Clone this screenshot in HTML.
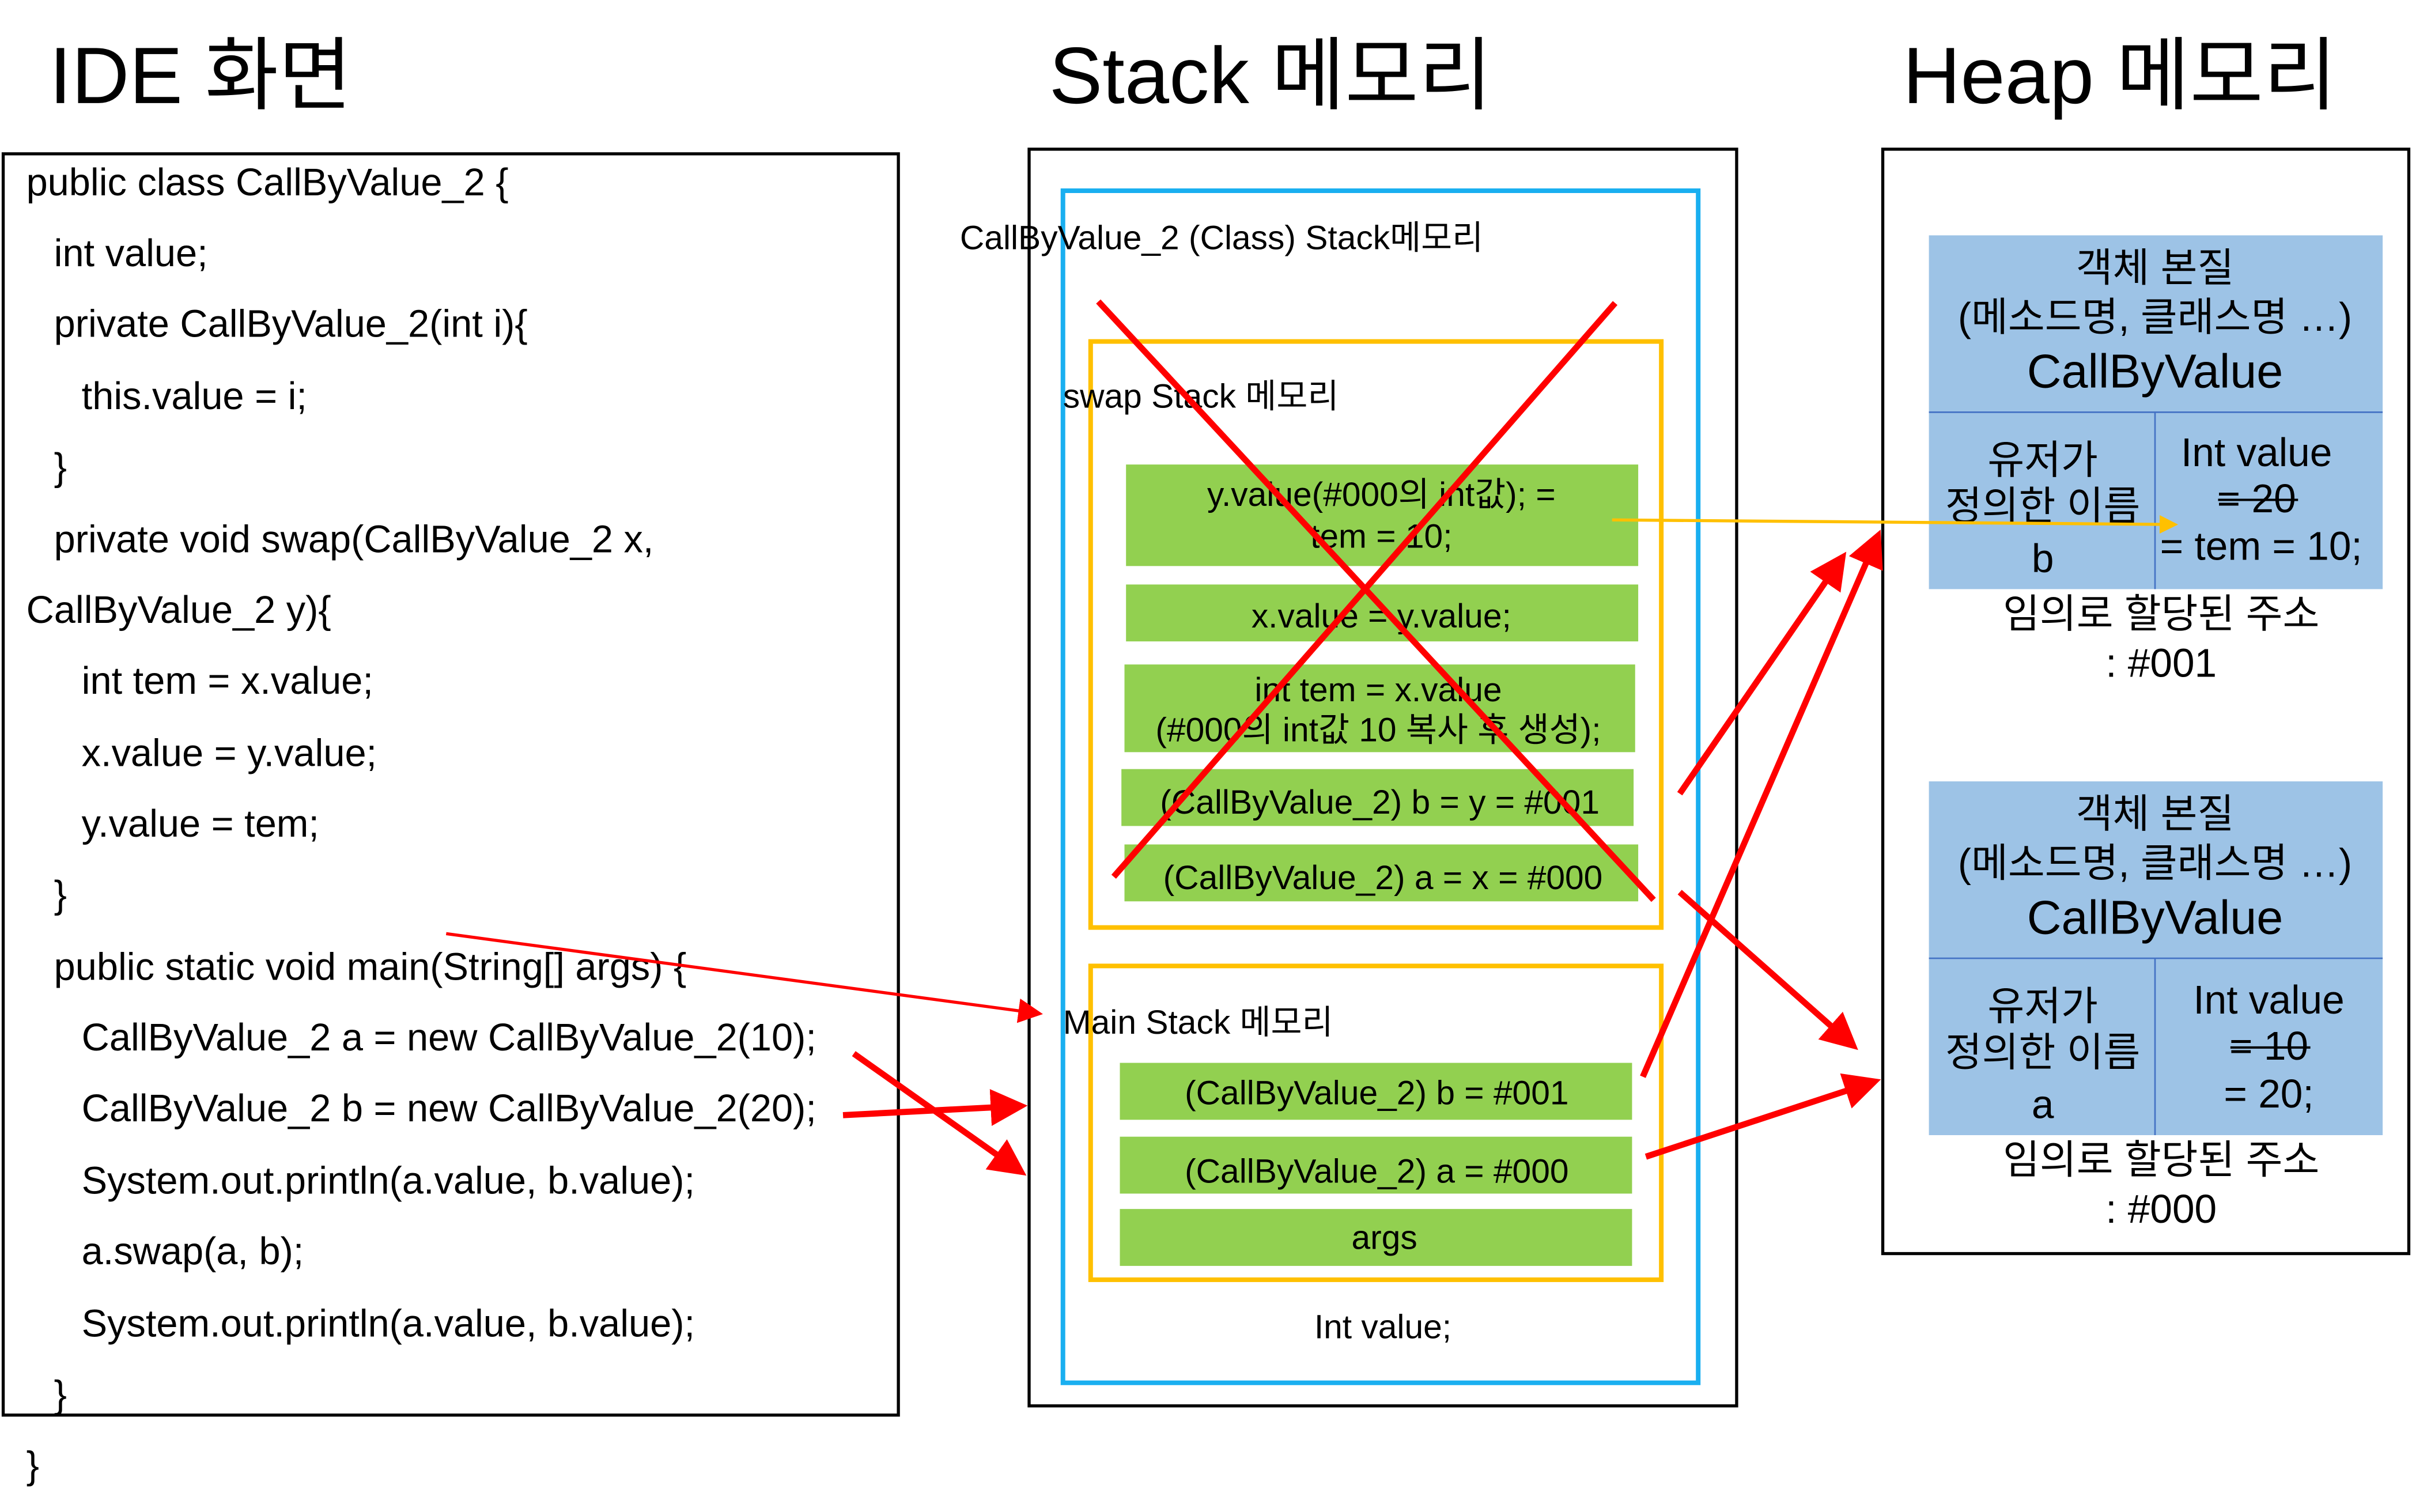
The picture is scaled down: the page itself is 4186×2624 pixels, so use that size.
<!DOCTYPE html>
<html><head><meta charset="utf-8"><style>
html,body{margin:0;padding:0;background:#fff;}
svg{display:block;}
text{font-family:"Liberation Sans","Noto Sans CJK KR",sans-serif;fill:#000;}
</style></head><body>
<svg width="4186" height="2624" viewBox="0 0 1568 983" xmlns="http://www.w3.org/2000/svg">
<defs>
<marker id="ar" markerWidth="6" markerHeight="6" refX="5" refY="3" orient="auto" markerUnits="strokeWidth"><path d="M0,0 L6,3 L0,6 z" fill="#ff0000"/></marker>
<marker id="ao" markerWidth="6" markerHeight="6" refX="5" refY="3" orient="auto" markerUnits="strokeWidth"><path d="M0,0 L6,3 L0,6 z" fill="#ffc000"/></marker>
<marker id="ar2" markerWidth="8" markerHeight="8" refX="7" refY="4" orient="auto" markerUnits="strokeWidth"><path d="M0,0 L8,4 L0,8 z" fill="#ff0000"/></marker>
</defs>
<text x="32" y="67" font-size="52">IDE 화면</text>
<text x="682" y="67" font-size="52">Stack 메모리</text>
<text x="1237" y="67" font-size="52">Heap 메모리</text>

<rect x="2" y="100" width="582" height="820" fill="none" stroke="#000" stroke-width="2"/>
<g font-size="25">
<text x="17" y="127">public class CallByValue_2 {</text>
<text x="35" y="173">int value;</text>
<text x="35" y="219">private CallByValue_2(int i){</text>
<text x="53" y="266">this.value = i;</text>
<text x="35" y="312">}</text>
<text x="35" y="359">private void swap(CallByValue_2 x,</text>
<text x="17" y="405">CallByValue_2 y){</text>
<text x="53" y="451">int tem = x.value;</text>
<text x="53" y="498">x.value = y.value;</text>
<text x="53" y="544">y.value = tem;</text>
<text x="35" y="590">}</text>
<text x="35" y="637">public static void main(String[] args) {</text>
<text x="53" y="683">CallByValue_2 a = new CallByValue_2(10);</text>
<text x="53" y="729">CallByValue_2 b = new CallByValue_2(20);</text>
<text x="53" y="776">System.out.println(a.value, b.value);</text>
<text x="53" y="822">a.swap(a, b);</text>
<text x="53" y="869">System.out.println(a.value, b.value);</text>
<text x="35" y="915">}</text>
<text x="17" y="961">}</text>
</g>

<rect x="669" y="97" width="460" height="817" fill="none" stroke="#000" stroke-width="2"/>
<rect x="691" y="124" width="413" height="775" fill="none" stroke="#1aaff0" stroke-width="3"/>
<text x="624" y="162" font-size="22">CallByValue_2 (Class) Stack메모리</text>
<rect x="709" y="222" width="371" height="381" fill="none" stroke="#ffc000" stroke-width="3"/>
<text x="691" y="265" font-size="22">swap Stack 메모리</text>
<g fill="#92d050">
<rect x="732" y="302" width="333" height="66"/>
<rect x="732" y="380" width="333" height="37"/>
<rect x="731" y="432" width="332" height="57"/>
<rect x="729" y="500" width="333" height="37"/>
<rect x="731" y="549" width="334" height="37"/>
</g>
<g font-size="22" text-anchor="middle">
<text x="898" y="329">y.value(#000의 int값); =</text>
<text x="898" y="356">tem = 10;</text>
<text x="898" y="408">x.value = y.value;</text>
<text x="896" y="456">int tem = x.value</text>
<text x="896" y="482">(#000의 int값 10 복사 후 생성);</text>
<text x="897" y="529">(CallByValue_2) b = y = #001</text>
<text x="899" y="578">(CallByValue_2) a = x = #000</text>
</g>
<rect x="709" y="628" width="371" height="204" fill="none" stroke="#ffc000" stroke-width="3"/>
<text x="691" y="672" font-size="22">Main Stack 메모리</text>
<g fill="#92d050">
<rect x="728" y="691" width="333" height="37"/>
<rect x="728" y="739" width="333" height="37"/>
<rect x="728" y="786" width="333" height="37"/>
</g>
<g font-size="22" text-anchor="middle">
<text x="895" y="718">(CallByValue_2) b = #001</text>
<text x="895" y="769">(CallByValue_2) a = #000</text>
<text x="900" y="812">args</text>
<text x="899" y="870">Int value;</text>
</g>
<line x1="714" y1="196" x2="1075" y2="585" stroke="#ff0000" stroke-width="4"/>
<line x1="1050" y1="197" x2="724" y2="570" stroke="#ff0000" stroke-width="4"/>

<rect x="1224" y="97" width="342" height="718" fill="none" stroke="#000" stroke-width="2"/>
<rect x="1254" y="153" width="295" height="230" fill="#9dc3e6"/>
<line x1="1254" y1="268" x2="1549" y2="268" stroke="#4472c4" stroke-width="1"/>
<line x1="1401" y1="268" x2="1401" y2="383" stroke="#4472c4" stroke-width="1"/>
<rect x="1254" y="508" width="295" height="230" fill="#9dc3e6"/>
<line x1="1254" y1="623" x2="1549" y2="623" stroke="#4472c4" stroke-width="1"/>
<line x1="1401" y1="623" x2="1401" y2="738" stroke="#4472c4" stroke-width="1"/>
<g font-size="26" text-anchor="middle">
<text x="1401" y="183">객체 본질</text>
<text x="1401" y="215">(메소드명, 클래스명 …)</text>
<text x="1401" y="252" font-size="31">CallByValue</text>
<text x="1328" y="308">유저가</text>
<text x="1328" y="338">정의한 이름</text>
<text x="1328" y="372">b</text>
<text x="1467" y="303">Int value</text>
<text x="1467" y="333">= 20</text>
<text x="1470" y="364">= tem = 10;</text>
<text x="1405" y="408">임의로 할당된 주소</text>
<text x="1405" y="440">: #001</text>

<text x="1401" y="538">객체 본질</text>
<text x="1401" y="570">(메소드명, 클래스명 …)</text>
<text x="1401" y="607" font-size="31">CallByValue</text>
<text x="1328" y="663">유저가</text>
<text x="1328" y="693">정의한 이름</text>
<text x="1328" y="727">a</text>
<text x="1475" y="659">Int value</text>
<text x="1475" y="689">= 10</text>
<text x="1475" y="720">= 20;</text>
<text x="1405" y="763">임의로 할당된 주소</text>
<text x="1405" y="795">: #000</text>
</g>
<line x1="1442" y1="325" x2="1494" y2="325" stroke="#000" stroke-width="1.5"/>
<line x1="1450" y1="681" x2="1502" y2="681" stroke="#000" stroke-width="1.5"/>

<line x1="1048" y1="338" x2="1414" y2="341" stroke="#ffc000" stroke-width="2" marker-end="url(#ao)"/>
<line x1="290" y1="607" x2="676" y2="659" stroke="#ff0000" stroke-width="2" marker-end="url(#ar2)"/>
<line x1="555" y1="685" x2="664" y2="762" stroke="#ff0000" stroke-width="4" marker-end="url(#ar)"/>
<line x1="548" y1="725" x2="664" y2="719" stroke="#ff0000" stroke-width="4" marker-end="url(#ar)"/>
<line x1="1068" y1="700" x2="1221" y2="348" stroke="#ff0000" stroke-width="4" marker-end="url(#ar)"/>
<line x1="1092" y1="516" x2="1198" y2="362" stroke="#ff0000" stroke-width="4" marker-end="url(#ar)"/>
<line x1="1092" y1="580" x2="1205" y2="680" stroke="#ff0000" stroke-width="4" marker-end="url(#ar)"/>
<line x1="1070" y1="752" x2="1219" y2="703" stroke="#ff0000" stroke-width="4" marker-end="url(#ar)"/>
</svg>
</body></html>
